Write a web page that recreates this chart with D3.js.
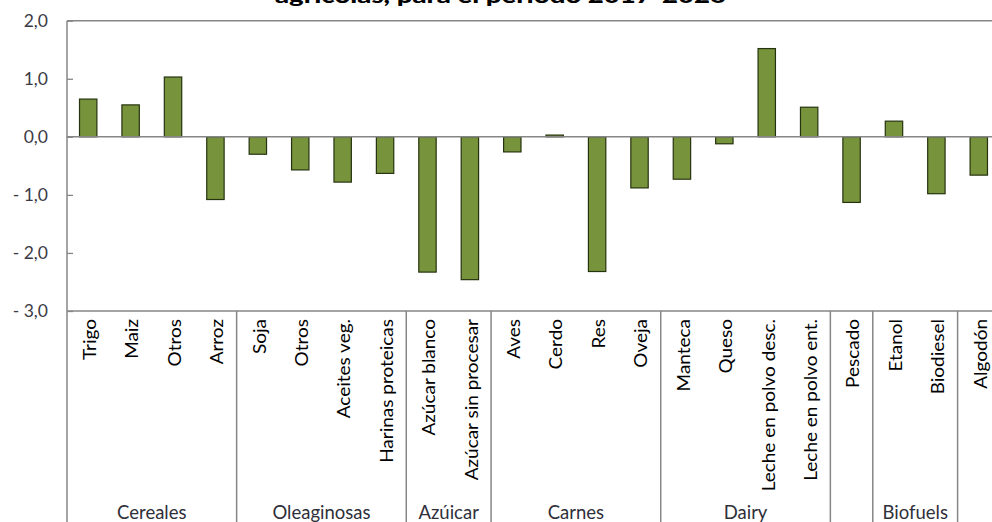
<!DOCTYPE html>
<html>
<head>
<meta charset="utf-8">
<script src="https://cdn.jsdelivr.net/npm/d3@7"></script>
<style>
  html, body { margin: 0; padding: 0; background: #fff; overflow: hidden; }
  svg { display: block; }
</style>
</head>
<body>
<svg id="chart" width="992" height="522"></svg>
<script>
// ---- data ----
const titleText = "agrícolas, para el período 2017-2026";
const categories = ["Trigo", "Maiz", "Otros", "Arroz", "Soja", "Otros", "Aceites veg.", "Harinas proteicas",
  "Azúcar blanco", "Azúcar sin procesar", "Aves", "Cerdo", "Res", "Oveja", "Manteca", "Queso",
  "Leche en polvo desc.", "Leche en polvo ent.", "Pescado", "Etanol", "Biodiesel", "Algodón"];
const values = [0.65, 0.55, 1.03, -1.08, -0.30, -0.57, -0.78, -0.63, -2.33, -2.46, -0.26, 0.03, -2.32, -0.88,
  -0.73, -0.12, 1.52, 0.51, -1.13, 0.27, -0.98, -0.66];
const groupNames = ["Cereales", "Oleaginosas", "Azúicar", "Carnes", "Dairy", "", "Biofuels", ""];
const groupStarts = [0, 4, 8, 10, 14, 18, 19, 21];
const groupEnds   = [3, 7, 9, 13, 17, 18, 20, 21];
const yTicks = [-3, -2, -1, 0, 1, 2];

// ---- layout ----
const svg = d3.select("#chart");
const plotLeft = 67, plotRight = 1000, plotTop = 20.7, plotBottom = 311;
const font = "Lato, 'Open Sans', sans-serif";

const x = d3.scaleBand().domain(d3.range(categories.length)).range([plotLeft, plotRight]).paddingInner(0).paddingOuter(0);
const y = d3.scaleLinear().domain([-3, 2]).range([plotBottom, plotTop]);

const fmt = d => {
  const s = d3.format(".1f")(Math.abs(d)).replace(".", ",");
  return d < 0 ? "- " + s : s;
};

// title (cropped at top)
svg.append("text")
  .attr("x", 500.5).attr("y", 3)
  .attr("text-anchor", "middle")
  .attr("font-family", font).attr("font-weight", "900").attr("font-size", 20)
  .attr("textLength", 451).attr("lengthAdjust", "spacingAndGlyphs")
  .attr("fill", "#000")
  .text(titleText);

const lineColor = "#868686";

// top border
svg.append("line").attr("x1", plotLeft).attr("x2", 992).attr("y1", y(2)).attr("y2", y(2))
  .attr("stroke", lineColor).attr("stroke-width", 1.5);

// bars
const bw = x.bandwidth() * 0.41;
svg.append("g").selectAll("rect").data(values).join("rect")
  .attr("x", (d, i) => x(i) + (x.bandwidth() - bw) / 2)
  .attr("width", bw)
  .attr("y", d => y(Math.max(0, d)))
  .attr("height", d => Math.abs(y(d) - y(0)))
  .attr("fill", "#77933c")
  .attr("stroke", "#26330f")
  .attr("stroke-width", 1.2);

// zero line
svg.append("line").attr("x1", plotLeft).attr("x2", 992).attr("y1", y(0)).attr("y2", y(0))
  .attr("stroke", lineColor).attr("stroke-width", 1.5);

// bottom category axis line
svg.append("line").attr("x1", plotLeft).attr("x2", 992).attr("y1", y(-3)).attr("y2", y(-3))
  .attr("stroke", lineColor).attr("stroke-width", 1.5);

// y axis
const yAxis = d3.axisLeft(y).tickValues(yTicks).tickFormat(fmt).tickSizeInner(-6).tickSizeOuter(0).tickPadding(19);
const yg = svg.append("g").attr("transform", `translate(${plotLeft},0)`).call(yAxis);
yg.select(".domain").remove();
yg.selectAll(".tick line").attr("stroke", lineColor).attr("stroke-width", 1.3);
yg.selectAll(".tick text").attr("font-family", font).attr("font-size", 17.5).attr("fill", "#3b3b45");
svg.append("line").attr("x1", plotLeft).attr("x2", plotLeft).attr("y1", plotTop).attr("y2", 522)
  .attr("stroke", lineColor).attr("stroke-width", 1.5);

// category labels
svg.append("g").selectAll("text").data(categories).join("text")
  .attr("transform", (d, i) => `translate(${x(i) + x.bandwidth() / 2 + 2},319) rotate(-90) scale(1.15,1)`)
  .attr("text-anchor", "end")
  .attr("dy", "0.35em")
  .attr("font-family", font).attr("font-size", 16.5)
  .attr("fill", "#000")
  .text(d => d);

// group separators
const seps = groupEnds.map(e => x(e) + x.bandwidth());
svg.append("g").selectAll("line").data(seps.filter(s => s < 992)).join("line")
  .attr("x1", d => d).attr("x2", d => d).attr("y1", y(-3)).attr("y2", 522)
  .attr("stroke", lineColor).attr("stroke-width", 1.5);

// group labels
svg.append("g").selectAll("text").data(groupNames).join("text")
  .attr("x", (d, i) => (x(groupStarts[i]) + x(groupEnds[i]) + x.bandwidth()) / 2)
  .attr("y", 519)
  .attr("text-anchor", "middle")
  .attr("font-family", font).attr("font-size", 18.5)
  .attr("fill", "#2f2f3a")
  .text(d => d);
</script>
</body>
</html>
